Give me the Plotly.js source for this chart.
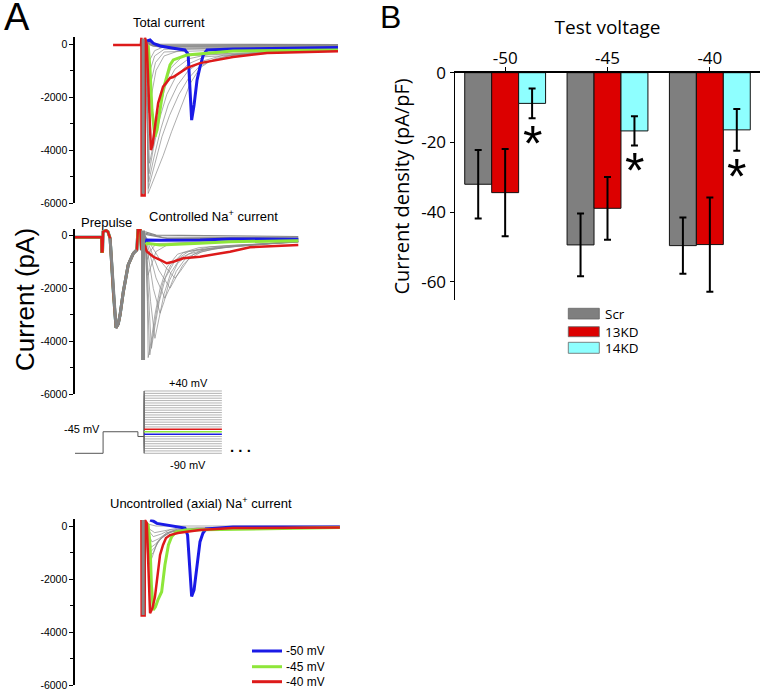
<!DOCTYPE html>
<html><head><meta charset="utf-8">
<script src="https://cdn.plot.ly/plotly-3.0.1.min.js"></script>
<style>html,body{margin:0;padding:0;background:#fff}#chart{width:762px;height:689px}</style>
</head><body><div id="chart"></div><script>
// ---------- Panel A data (time in arbitrary units, current in pA) ----------
// Total current
const totRed_t  = [14.1,24.4,24.6,24.7,25.8,25.9,26.6,27.1,27.8,28.1,28.7,29.6,30.8,32.6,35.2,36.4,41.5,46.3,58.5,71.1,83.3,97.4];
const totRed_pA = [-40,-40,250,-5720,-5720,250,-40,-1360,-3250,-4000,-3810,-3130,-2230,-1620,-1280,-1245,-900,-720,-490,-340,-300,-270];
const totGreen_t  = [27.1,27.8,28.5,29.6,30.4,31.5,32.6,34.0,35.2,36.4,41.4,58.5,97.4];
const totGreen_pA = [-40,-980,-2490,-3500,-3240,-2490,-1740,-1230,-790,-600,-415,-264,-226];
const totBlue_t  = [26.7,27.8,29.0,31.5,36.4,40.7,41.9,42.6,43.2,44.1,45.2,46.3,47.5,48.9,58.5,97.4];
const totBlue_pA = [113,150,26,-75,-160,-226,-380,-1740,-2870,-2300,-1360,-860,-415,-226,-190,-130];
const totArtifact_t = [25.25,25.25];
const totArtifact_pA = [200,-5650];
const totGray_t = [
  [26.0,26.6,27.1,29.6,32.7,35.8,39.5,42.6,46.3,50.0,58.0,75.0,97.4],
  [26.0,26.6,27.2,29.4,32.2,35.0,38.5,42.0,46.0,52.0,60.0,97.4],
  [26.0,26.6,27.3,29.2,31.8,34.5,38.0,42.0,47.0,55.0,97.4],
  [26.0,26.6,27.4,29.0,31.4,34.0,37.5,42.0,48.0,97.4],
  [26.0,26.6,27.6,29.2,31.2,33.5,37.0,42.0,50.0,97.4],
  [26.0,26.8,28.4,30.2,32.5,35.5,40.0,97.4],
  [26.0,27.0,28.2,30.0,33.0,40.0,97.4],
  [26.0,26.9,28.0,29.8,33.0,97.4],
  [26.0,26.8,27.8,29.5,33.0,97.4],
  [26.0,26.8,27.7,29.5,33.0,97.4],
  [26.0,27.0,30.0,97.4],
  [26.0,28.0,32.0,97.4],
  [26.0,28.0,33.0,97.4],
  [26.0,28.5,34.0,97.4],
  [26.0,29.0,36.0,60.0,97.4]
];
const totGray_pA = [
  [0,-2000,-5640,-5000,-4200,-3300,-2300,-1500,-900,-650,-420,-300,-250],
  [0,-2000,-5450,-4600,-3500,-2700,-1900,-1300,-850,-550,-380,-240],
  [0,-2000,-5200,-4300,-3200,-2300,-1550,-1000,-650,-420,-230],
  [0,-1800,-4900,-3950,-2800,-1900,-1200,-750,-480,-220],
  [0,-1600,-4500,-3700,-2500,-1600,-950,-560,-380,-210],
  [0,-1400,-3800,-3100,-1800,-900,-450,-200],
  [-100,-2600,-2000,-1000,-450,-200,-120],
  [-100,-2000,-1500,-700,-300,-100],
  [-50,-1400,-1000,-450,-200,-80],
  [0,-900,-600,-250,-100,-50],
  [200,100,0,-20],
  [150,40,-30,-50],
  [100,0,-60,-80],
  [80,-40,-100,-110],
  [50,-80,-150,-140,-130]
];

// Controlled Na+ current (prepulse shared by all traces)
const prepulse_t  = [0,9.8,9.9,10.2,10.4,11.5,12.2,13.0,14.2,15.2,16.0,16.7,17.9,19.7,21.6,22.9,23.3,24.2,24.6,25.9];
const prepulse_pA = [-60,-60,-600,-600,150,200,150,-100,-2120,-3490,-3350,-3000,-2120,-1110,-670,-540,215,215,-540,-400];
const ctlRed_t  = [26.6,29.0,31.5,34.0,36.4,40.1,46.3,53.7,57.4,64.8,82.7];
const ctlRed_pA = [-600,-800,-920,-1045,-985,-855,-795,-667,-606,-440,-350];
const ctlGreen_t  = [26.6,31.5,40.0,46.3,57.4,82.7];
const ctlGreen_pA = [-290,-350,-320,-290,-230,-190];
const ctlBlue_t  = [26.6,31.5,46.3,57.4,82.7];
const ctlBlue_pA = [-160,-170,-160,-125,-135];
const ctlArtifact_t = [25.2,25.2];
const ctlArtifact_pA = [200,-4710];
const ctlGray_t = [
  [26,26.8,27.1,28.2,29.6,31.5,34,38,46,60,82.7],
  [26,27.0,27.7,28.8,30.3,32.5,35.5,40,50,82.7],
  [26,27.3,28.3,29.5,31.2,33.5,37,42,55,82.7],
  [26,28,29.6,31,33,35.5,39,45,60,82.7],
  [26,29,31.5,33,35,38,42,50,82.7],
  [26,30,33.3,35,37.5,41,47,60,82.7],
  [26,31,35.2,37,40,44,52,82.7],
  [26,32,37,39,42,47,56,82.7],
  [26,27,28,30,35,82.7],
  [26,26.8,27.8,30,82.7],
  [26,30,82.7],
  [26,32,82.7],
  [26,34,82.7]
];
const ctlGray_pA = [
  [0,-2500,-4620,-4000,-3000,-2000,-1200,-700,-450,-350,-250],
  [0,-2500,-4520,-3800,-2800,-1800,-1100,-650,-420,-240],
  [0,-2500,-4270,-3500,-2500,-1600,-950,-600,-400,-230],
  [0,-2500,-3890,-3200,-2200,-1400,-850,-550,-380,-220],
  [0,-2000,-2940,-2500,-1700,-1050,-700,-480,-230],
  [0,-1600,-2370,-2000,-1350,-850,-560,-400,-220],
  [0,-1300,-1990,-1650,-1100,-700,-480,-210],
  [0,-1000,-1610,-1350,-900,-600,-430,-200],
  [0,-1500,-1200,-600,-300,-150],
  [0,-900,-600,-300,-100],
  [150,20,-30],
  [100,-50,-80],
  [50,-100,-120]
];

// Uncontrolled (axial) Na+ current
const axRed_t  = [24.6,24.7,25.8,25.9,26.6,27.0,27.8,28.7,29.6,30.3,31.5,32.6,33.7,35.2,38.1,41.4,46.3,58.5,98.1];
const axRed_pA = [226,-3380,-3380,226,113,-1280,-3290,-3090,-2680,-2100,-1090,-716,-450,-340,-265,-215,-150,-75,-60];
const axGreen_t  = [26.6,27.1,27.8,28.3,29.0,29.8,30.7,32.1,33.3,34.6,35.8,37.4,40.7,98.1];
const axGreen_pA = [100,40,-716,-2220,-3170,-3050,-2790,-2480,-1470,-716,-400,-226,-150,-60];
const axBlue_t  = [27.8,28.9,30.3,34.0,38.9,40.7,41.7,42.4,43.2,44.1,45.2,46.3,47.4,48.5,58.5,98.1];
const axBlue_pA = [226,190,100,40,-25,-75,-340,-1660,-2660,-2410,-1470,-590,-265,-113,-40,-40];
const axArtifact_t = [25.25,25.25];
const axArtifact_pA = [226,-3360];
const axGray_t = [
  [26,27.2,28.5,30.5,34,45,98.1],
  [26,27.5,29,31,35,45,98.1],
  [26,27.8,29.6,32,36,45,98.1],
  [26,28.2,30.2,33,37,98.1],
  [26,28.5,31,34,38,98.1],
  [26,29,32,35,98.1],
  [26,29.5,33,38,98.1],
  [26,30,98.1]
];
const axGray_pA = [
  [0,-1500,-1200,-600,-250,-100,-50],
  [0,-1200,-1000,-550,-230,-90,-40],
  [0,-1000,-800,-450,-200,-80,-40],
  [0,-800,-650,-350,-160,-30],
  [0,-600,-480,-260,-120,-30],
  [0,-400,-300,-150,-20],
  [0,-250,-180,-80,-10],
  [100,0,0]
];

// Voltage protocol (mV)
const protoT = [-1.1,10.4,10.4,23.3,23.3,25.6,25.6,54.4];
const holdingMV = -90, prepulseMV = -45, gapMV = -55;
const testVoltages = [-90,-85,-80,-75,-70,-65,-60,-55,-50,-45,-40,-35,-30,-25,-20,-15,-10,-5,0,5,10,15,20,25,30,35,40];
const highlightVoltages = [-50,-45,-40];
const highlightColors = ['#1a1ae6','#8ee63a','#dd1a1a'];
const highlightLabels = ['-50 mV','-45 mV','-40 mV'];

// ---------- Panel B data ----------
const categories = ['-50','-45','-40'];
const groupNames = ['Scr','13KD','14KD'];
const scrMean  = [-32.0,-49.4,-49.6];
const scrErr   = [9.8,9.0,8.1];
const kd13Mean = [-34.4,-38.9,-49.3];
const kd13Err  = [12.5,9.0,13.5];
const kd14Mean = [-8.8,-16.7,-16.4];
const kd14Err  = [4.3,4.2,6.0];
const sigMarks = ['*','*','*'];
const barColors = ['#7f7f7f','#dc0000','#8effff'];

// ---------- build traces ----------
const RED = highlightColors[2], GREEN = highlightColors[1], BLUE = highlightColors[0];
const GRAYTHIN = '#8a8a8a';
function ln(t, v, yax, color, width){
  return {type:'scatter', mode:'lines', x:t, y:v, xaxis:'x', yaxis:yax,
          line:{color:color, width:width, shape:'linear'}, hoverinfo:'skip', showlegend:false};
}
const traces = [];
// total
totGray_t.forEach((t,i)=>traces.push(ln(t, totGray_pA[i], 'y', GRAYTHIN, i>=10?1.2:0.7)));
traces.push(ln(totBlue_t, totBlue_pA, 'y', BLUE, 3));
traces.push(ln(totGreen_t, totGreen_pA, 'y', GREEN, 3));
traces.push(ln(totRed_t, totRed_pA, 'y', RED, 2.5));
traces.push(ln(totArtifact_t, totArtifact_pA, 'y', '#888888', 3));
// controlled
ctlGray_t.forEach((t,i)=>traces.push(ln(t, ctlGray_pA[i], 'y2', GRAYTHIN, i>=10?1.2:0.7)));
traces.push(ln(prepulse_t.concat(ctlBlue_t), prepulse_pA.concat(ctlBlue_pA), 'y2', BLUE, 3));
traces.push(ln(prepulse_t.concat(ctlGreen_t), prepulse_pA.concat(ctlGreen_pA), 'y2', GREEN, 3));
traces.push(ln(prepulse_t.concat(ctlRed_t), prepulse_pA.concat(ctlRed_pA), 'y2', RED, 2.5));
traces.push(ln(prepulse_t.slice(7,16), prepulse_pA.slice(7,16), 'y2', '#858585', 3));
traces.push(ln(ctlArtifact_t, ctlArtifact_pA, 'y2', '#888888', 4));
// axial
axGray_t.forEach((t,i)=>traces.push(ln(t, axGray_pA[i], 'y3', GRAYTHIN, 0.7)));
traces.push(ln(axBlue_t, axBlue_pA, 'y3', BLUE, 3));
traces.push(ln(axGreen_t, axGreen_pA, 'y3', GREEN, 3));
traces.push(ln(axRed_t, axRed_pA, 'y3', RED, 2.5));
traces.push(ln(axArtifact_t, axArtifact_pA, 'y3', '#888888', 3));
// protocol
testVoltages.forEach(v=>{
  if (highlightVoltages.indexOf(v) >= 0) return;
  traces.push(ln(protoT.slice(5), [gapMV, v, v], 'y4', '#a0a0a0', 0.8));
});
traces.push(ln(protoT.slice(0,6), [holdingMV,holdingMV,prepulseMV,prepulseMV,gapMV,gapMV], 'y4', '#555555', 1));
traces.push(ln([protoT[5],protoT[5]], [testVoltages[0], testVoltages[testVoltages.length-1]], 'y4', '#555555', 1));
highlightVoltages.forEach((v,i)=>traces.push(ln(protoT.slice(6), [v, v], 'y4', highlightColors[i], 1.5)));

// Panel B bars
const means = [scrMean, kd13Mean, kd14Mean], errs = [scrErr, kd13Err, kd14Err];
groupNames.forEach((g,i)=>traces.push({
  type:'bar', name:g, x:categories, y:means[i], xaxis:'x2', yaxis:'y5',
  marker:{color:barColors[i], line:{color:'#111', width:1}},
  error_y:{type:'data', array:errs[i], visible:true, color:'#000', thickness:2, width:3.5},
  hoverinfo:'skip', showlegend:false
}));

// ---------- layout helpers ----------
const W = 762, H = 689;
const px = x => x / W, py = y => 1 - y / H;
const fA = 'Liberation Sans, Arial, sans-serif';
const fB = 'Open Sans, Noto Sans, sans-serif';

function currentAxis(dom){
  return {domain:dom, anchor:'x', range:[-6000,250], showline:true, linecolor:'#000', linewidth:1.6,
    showgrid:false, zeroline:false, ticks:'outside', ticklen:4, tickwidth:1, tickcolor:'#000',
    tickvals:[0,-2000,-4000,-6000], ticktext:['0','-2000','-4000','-6000'], ticklabeloverflow:'allow',
    tickfont:{family:fA, size:10.5, color:'#000'},
    minor:{tickvals:[-1000,-3000,-5000], ticks:'outside', ticklen:3, tickcolor:'#000'}};
}

const ann = [];
function txt(text, x, y, size, opts){
  ann.push(Object.assign({text:text, x:px(x), y:py(y), xref:'paper', yref:'paper', showarrow:false,
    xanchor:'center', yanchor:'middle', font:{family:fA, size:size, color:'#000'}}, opts||{}));
}
txt('A', 16.5, 17, 38);
txt('B', 390.5, 17, 32);
txt('Total current', 169, 23, 13);
txt('Prepulse', 106, 222, 13);
txt('Controlled Na<sup>+</sup> current', 213.3, 216, 13);
txt('+40 mV', 188, 383, 11);
txt('-45 mV', 82, 429, 11);
txt('-90 mV', 188, 464.5, 11);
txt('<b>. . .</b>', 240, 446, 15);
txt('Uncontrolled (axial) Na<sup>+</sup> current', 201, 503.5, 13);
txt('Current (pA)', 24.5, 299.5, 26, {textangle:-90});

const shapes = [];
// Panel A legend
const legAy = [651, 666.7, 681.7];
highlightLabels.forEach((lab,i)=>{
  shapes.push({type:'line', xref:'paper', yref:'paper', x0:px(252), x1:px(282), y0:py(legAy[i]), y1:py(legAy[i]),
    line:{color:highlightColors[i], width:3}});
  txt(lab, 284, legAy[i], 12, {xanchor:'left', height:14});
});
// Panel B legend
const legBy = [[308.3,319],[326.7,336.7],[342.3,353.3]];
const legBtext = [313.6, 331.7, 347.8];
groupNames.forEach((g,i)=>{
  shapes.push({type:'rect', xref:'paper', yref:'paper', x0:px(568.3), x1:px(599.3), y0:py(legBy[i][1]), y1:py(legBy[i][0]),
    fillcolor:barColors[i], line:{color:'#666', width:0.8}});
  txt(g, 603, legBtext[i], 13.5, {xanchor:'left', height:13, font:{family:fB, size:13.5, color:'#000'}});
});
// significance stars
const cyanOffset = 0.2633;
sigMarks.forEach((s,i)=>{
  ann.push({text:s, xref:'x2', yref:'y5', x:i + cyanOffset, y:kd14Mean[i]-kd14Err[i]-4.8,
    showarrow:false, xanchor:'center', yanchor:'middle', yshift:-9,
    font:{family:fA, size:50, color:'#000'}});
});

const layout = {
  width:W, height:H, margin:{l:0,r:0,t:0,b:0}, paper_bgcolor:'#fff', plot_bgcolor:'rgba(0,0,0,0)',
  showlegend:false, barmode:'group', bargap:0.21, bargroupgap:0,
  xaxis:{domain:[px(75), px(345)], range:[0,100], anchor:'y', visible:false, fixedrange:true},
  yaxis: currentAxis([py(203), py(37.4)]),
  yaxis2: currentAxis([py(394), py(229.1)]),
  yaxis3: currentAxis([py(685), py(519.4)]),
  yaxis4:{domain:[py(458.1), py(386.2)], anchor:'x', range:[-100,50], visible:false},
  xaxis2:{domain:[px(455), px(760)], anchor:'y5', side:'top', type:'category', range:[-0.49,2.49],
    showline:true, linecolor:'#000', linewidth:1.5, ticks:'outside', ticklen:4, tickcolor:'#000',
    ticklabelstandoff:-4,
    showgrid:false, zeroline:false, tickfont:{family:fB, size:17, color:'#000'},
    title:{text:'Test voltage', font:{family:fB, size:19, color:'#000'}, standoff:7}},
  yaxis5:{domain:[py(300), py(72.7)], anchor:'x2', range:[-65.2,0], showline:true, linecolor:'#000', linewidth:1.5,
    ticks:'outside', ticklen:4, tickcolor:'#000', showgrid:false, zeroline:false,
    tickvals:[0,-20,-40,-60], ticktext:['0','-20','-40','-60'], tickfont:{family:fB, size:17, color:'#000'},
    title:{text:'Current density (pA/pF)', font:{family:fB, size:20, color:'#000'}, standoff:6}},
  annotations: ann, shapes: shapes
};

Plotly.newPlot('chart', traces, layout, {staticPlot:true, displayModeBar:false});
</script></body></html>
